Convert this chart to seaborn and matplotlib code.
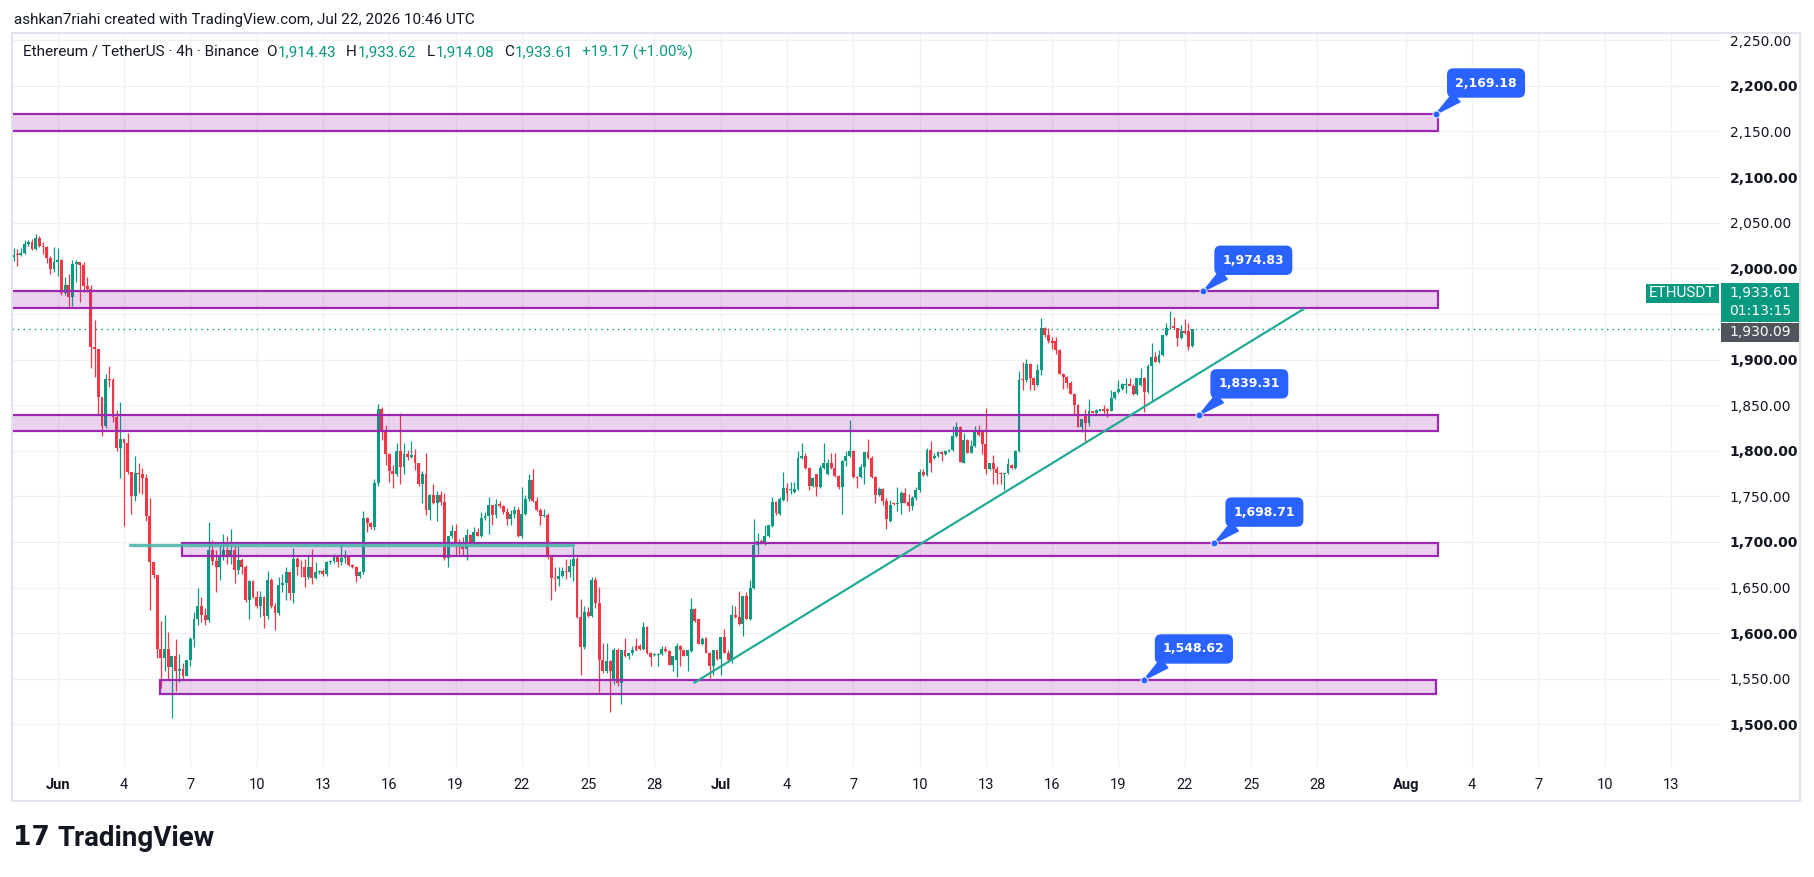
import numpy as np
import matplotlib
matplotlib.use("Agg")
import matplotlib.pyplot as plt
import seaborn as sns
from matplotlib.patches import Rectangle
from matplotlib.transforms import blended_transform_factory

# ===============================
# Style
# ===============================
sns.set_style("white")
plt.rcParams["font.family"] = ["DejaVu Sans"]
NARROW = ["Roboto", "DejaVu Sans"]

UP = "#089981"
DOWN = "#f23645"
PURPLE = "#9c27b0"
BLUE = "#2962ff"
TEXT = "#131722"

# ===============================
# ETH/USDT 4h candles, 30 May 00:00 -> 22 Jul 08:00
# ===============================
open_ = [
    2012, 2016, 2015, 2017, 2027, 2029, 2021, 2033, 2024, 2023,
    2011, 1999, 2007, 2009, 1973, 1982, 1968, 2005, 2007, 2004,
    1981, 1977, 1914, 1912, 1859, 1827, 1879, 1878, 1837, 1803,
    1813, 1809, 1777, 1750, 1776, 1775, 1770, 1728, 1678, 1664,
    1583, 1573, 1583, 1563, 1575, 1558, 1561, 1553, 1570, 1594,
    1616, 1630, 1620, 1614, 1691, 1679, 1673, 1685, 1691, 1685,
    1691, 1669, 1680, 1673, 1636, 1657, 1640, 1630, 1640, 1619,
    1658, 1630, 1622, 1653, 1655, 1667, 1644, 1681, 1673, 1672,
    1661, 1673, 1660, 1667, 1668, 1665, 1678, 1679, 1683, 1678,
    1682, 1683, 1675, 1673, 1663, 1667, 1726, 1721, 1716, 1765,
    1846, 1823, 1796, 1778, 1774, 1800, 1782, 1796, 1793, 1795,
    1786, 1763, 1774, 1735, 1751, 1743, 1751, 1744, 1682, 1706,
    1712, 1698, 1695, 1692, 1708, 1699, 1711, 1707, 1726, 1728,
    1741, 1729, 1742, 1739, 1733, 1725, 1731, 1735, 1706, 1731,
    1747, 1768, 1745, 1735, 1728, 1730, 1684, 1660, 1659, 1663,
    1668, 1667, 1674, 1681, 1618, 1585, 1623, 1619, 1658, 1633,
    1570, 1558, 1569, 1548, 1582, 1545, 1581, 1575, 1578, 1586,
    1586, 1583, 1607, 1578, 1576, 1576, 1577, 1583, 1580, 1565,
    1571, 1586, 1581, 1575, 1580, 1626, 1615, 1588, 1595, 1578,
    1564, 1581, 1572, 1596, 1578, 1570, 1620, 1618, 1610, 1641,
    1615, 1650, 1697, 1701, 1698, 1706, 1717, 1744, 1731, 1746,
    1759, 1757, 1755, 1758, 1792, 1794, 1781, 1761, 1774, 1760,
    1781, 1774, 1786, 1781, 1772, 1760, 1789, 1794, 1800, 1771,
    1771, 1782, 1799, 1792, 1771, 1751, 1758, 1745, 1723, 1743,
    1742, 1743, 1754, 1744, 1739, 1748, 1757, 1777, 1773, 1801,
    1792, 1794, 1799, 1796, 1800, 1801, 1816, 1826, 1787, 1812,
    1798, 1805, 1822, 1821, 1807, 1780, 1787, 1780, 1776, 1774,
    1776, 1784, 1781, 1800, 1879, 1877, 1895, 1880, 1872, 1888,
    1935, 1927, 1920, 1920, 1910, 1884, 1881, 1874, 1862, 1850,
    1826, 1838, 1830, 1843, 1841, 1844, 1846, 1846, 1844, 1858,
    1864, 1868, 1872, 1873, 1871, 1862, 1872, 1880, 1864, 1893,
    1903, 1897, 1905, 1927, 1934, 1937, 1934, 1924, 1931, 1931,
    1914.43,
]
high = [
    2022, 2021, 2022, 2031, 2031, 2032, 2038, 2035, 2029, 2024,
    2013, 2023, 2022, 2010, 1991, 1994, 2009, 2009, 2007, 2007,
    1990, 1982, 1943, 1912, 1859, 1884, 1893, 1880, 1845, 1853,
    1813, 1819, 1777, 1794, 1786, 1781, 1774, 1748, 1678, 1664,
    1613, 1620, 1601, 1575, 1593, 1577, 1567, 1571, 1596, 1623,
    1649, 1640, 1628, 1722, 1702, 1691, 1695, 1709, 1706, 1714,
    1696, 1695, 1682, 1675, 1658, 1658, 1646, 1646, 1641, 1668,
    1660, 1633, 1661, 1665, 1673, 1667, 1693, 1684, 1680, 1681,
    1685, 1692, 1678, 1669, 1670, 1679, 1680, 1687, 1684, 1698,
    1691, 1686, 1676, 1674, 1668, 1734, 1727, 1722, 1769, 1851,
    1848, 1828, 1797, 1784, 1809, 1841, 1809, 1801, 1811, 1802,
    1787, 1778, 1798, 1752, 1764, 1756, 1756, 1754, 1707, 1718,
    1720, 1703, 1705, 1714, 1709, 1716, 1715, 1733, 1733, 1749,
    1741, 1747, 1745, 1740, 1737, 1735, 1739, 1738, 1760, 1751,
    1775, 1780, 1749, 1737, 1736, 1732, 1685, 1673, 1673, 1673,
    1681, 1681, 1694, 1683, 1637, 1630, 1629, 1661, 1661, 1651,
    1589, 1589, 1570, 1584, 1584, 1581, 1595, 1578, 1586, 1595,
    1588, 1612, 1608, 1579, 1578, 1578, 1586, 1586, 1581, 1575,
    1589, 1587, 1582, 1581, 1638, 1627, 1616, 1596, 1596, 1579,
    1581, 1582, 1596, 1605, 1581, 1631, 1630, 1646, 1641, 1645,
    1658, 1725, 1710, 1703, 1719, 1719, 1749, 1745, 1749, 1777,
    1765, 1766, 1766, 1800, 1808, 1797, 1782, 1771, 1775, 1784,
    1809, 1791, 1798, 1798, 1773, 1790, 1800, 1834, 1801, 1772,
    1785, 1799, 1813, 1794, 1772, 1760, 1759, 1748, 1746, 1744,
    1760, 1756, 1759, 1753, 1750, 1760, 1780, 1780, 1803, 1811,
    1797, 1800, 1800, 1801, 1802, 1827, 1832, 1827, 1819, 1813,
    1812, 1827, 1828, 1822, 1847, 1787, 1795, 1783, 1777, 1776,
    1792, 1785, 1801, 1887, 1897, 1901, 1896, 1881, 1895, 1946,
    1936, 1934, 1925, 1925, 1911, 1885, 1882, 1876, 1863, 1851,
    1835, 1846, 1857, 1844, 1846, 1846, 1850, 1847, 1867, 1865,
    1878, 1874, 1880, 1880, 1873, 1880, 1891, 1881, 1895, 1918,
    1908, 1910, 1927, 1940, 1953, 1947, 1935, 1938, 1944, 1940,
    1933.62,
]
low = [
    2008, 2003, 2014, 2016, 2024, 2020, 2020, 2023, 2016, 2006,
    1994, 1996, 1992, 1971, 1971, 1957, 1959, 1985, 1963, 1974,
    1974, 1891, 1881, 1839, 1816, 1825, 1870, 1832, 1800, 1770,
    1717, 1774, 1731, 1745, 1754, 1753, 1723, 1625, 1660, 1573,
    1540, 1558, 1549, 1507, 1536, 1546, 1549, 1553, 1564, 1585,
    1609, 1612, 1609, 1612, 1675, 1645, 1658, 1680, 1676, 1676,
    1655, 1665, 1665, 1634, 1615, 1638, 1627, 1618, 1606, 1616,
    1627, 1603, 1620, 1645, 1636, 1636, 1633, 1664, 1662, 1651,
    1659, 1654, 1659, 1665, 1663, 1663, 1676, 1677, 1672, 1675,
    1677, 1674, 1671, 1656, 1660, 1665, 1711, 1714, 1713, 1761,
    1812, 1784, 1766, 1759, 1772, 1764, 1774, 1790, 1792, 1779,
    1761, 1743, 1730, 1724, 1742, 1723, 1741, 1680, 1673, 1704,
    1686, 1687, 1686, 1680, 1695, 1697, 1706, 1705, 1724, 1709,
    1718, 1726, 1737, 1731, 1719, 1718, 1726, 1705, 1704, 1729,
    1745, 1744, 1734, 1718, 1727, 1681, 1636, 1646, 1652, 1661,
    1659, 1661, 1657, 1617, 1554, 1583, 1618, 1618, 1628, 1535,
    1556, 1556, 1513, 1544, 1542, 1522, 1574, 1572, 1576, 1580,
    1582, 1582, 1577, 1564, 1575, 1564, 1576, 1579, 1565, 1559,
    1552, 1564, 1575, 1559, 1579, 1612, 1588, 1587, 1578, 1551,
    1554, 1571, 1554, 1578, 1568, 1567, 1617, 1609, 1597, 1615,
    1614, 1648, 1687, 1698, 1697, 1705, 1716, 1730, 1730, 1745,
    1745, 1753, 1754, 1757, 1791, 1780, 1757, 1760, 1750, 1759,
    1780, 1773, 1780, 1771, 1758, 1731, 1783, 1793, 1770, 1759,
    1770, 1764, 1791, 1770, 1743, 1750, 1740, 1714, 1722, 1741,
    1734, 1731, 1743, 1734, 1735, 1746, 1755, 1772, 1772, 1777,
    1791, 1793, 1789, 1795, 1799, 1800, 1815, 1788, 1786, 1797,
    1797, 1804, 1816, 1796, 1774, 1779, 1764, 1763, 1763, 1757,
    1775, 1780, 1780, 1799, 1867, 1875, 1867, 1867, 1871, 1883,
    1925, 1918, 1911, 1906, 1884, 1868, 1869, 1862, 1840, 1826,
    1820, 1811, 1827, 1841, 1840, 1843, 1839, 1837, 1843, 1857,
    1863, 1867, 1863, 1871, 1861, 1861, 1871, 1842, 1863, 1855,
    1897, 1896, 1904, 1926, 1933, 1933, 1915, 1923, 1928, 1910,
    1914.08,
]
close = [
    2015, 2015, 2017, 2027, 2029, 2021, 2033, 2024, 2023, 2011,
    1999, 2007, 2009, 1973, 1982, 1968, 2005, 2007, 2004, 1981,
    1977, 1914, 1912, 1859, 1827, 1879, 1878, 1837, 1803, 1813,
    1809, 1777, 1750, 1776, 1775, 1770, 1728, 1678, 1664, 1583,
    1573, 1583, 1563, 1575, 1558, 1561, 1553, 1570, 1594, 1616,
    1630, 1620, 1614, 1691, 1679, 1673, 1685, 1691, 1685, 1691,
    1669, 1680, 1673, 1636, 1657, 1640, 1630, 1640, 1619, 1658,
    1630, 1622, 1653, 1655, 1667, 1644, 1681, 1673, 1672, 1661,
    1673, 1660, 1667, 1668, 1665, 1678, 1679, 1683, 1678, 1682,
    1683, 1675, 1673, 1663, 1667, 1726, 1721, 1716, 1765, 1846,
    1823, 1796, 1778, 1774, 1800, 1782, 1796, 1793, 1795, 1786,
    1763, 1774, 1735, 1751, 1743, 1751, 1744, 1682, 1706, 1712,
    1698, 1695, 1692, 1708, 1699, 1711, 1707, 1726, 1728, 1741,
    1729, 1742, 1739, 1733, 1725, 1731, 1735, 1706, 1731, 1747,
    1768, 1745, 1735, 1728, 1730, 1684, 1660, 1659, 1663, 1668,
    1667, 1674, 1681, 1618, 1585, 1623, 1619, 1658, 1633, 1570,
    1558, 1569, 1558, 1582, 1545, 1581, 1575, 1578, 1581, 1581,
    1583, 1607, 1578, 1574, 1577, 1577, 1583, 1580, 1565, 1575,
    1586, 1581, 1575, 1581, 1626, 1613, 1588, 1593, 1578, 1564,
    1581, 1572, 1596, 1578, 1570, 1620, 1618, 1610, 1641, 1615,
    1650, 1697, 1701, 1698, 1707, 1718, 1744, 1732, 1747, 1759,
    1754, 1758, 1758, 1792, 1794, 1781, 1761, 1770, 1760, 1781,
    1786, 1786, 1781, 1772, 1760, 1789, 1794, 1800, 1771, 1770,
    1782, 1799, 1792, 1771, 1751, 1758, 1745, 1725, 1741, 1742,
    1743, 1754, 1743, 1739, 1748, 1757, 1777, 1773, 1801, 1786,
    1794, 1799, 1796, 1800, 1801, 1816, 1826, 1788, 1812, 1798,
    1805, 1822, 1817, 1807, 1780, 1787, 1780, 1776, 1774, 1776,
    1785, 1781, 1800, 1878, 1877, 1895, 1880, 1872, 1888, 1935,
    1927, 1920, 1918, 1910, 1884, 1881, 1874, 1862, 1850, 1826,
    1835, 1830, 1843, 1841, 1845, 1846, 1844, 1844, 1858, 1864,
    1868, 1873, 1873, 1871, 1862, 1880, 1880, 1864, 1893, 1903,
    1897, 1905, 1927, 1934, 1935, 1934, 1924, 1931, 1929, 1914,
    1933.61,
]
first_candle_day = -2.0   # 30 May 00:00, in days from 1 Jun
candles_per_day = 6

# Support / resistance zones (price) and their day range
zone_top = [2169.18, 1974.83, 1839.31, 1698.71, 1548.62]
zone_bottom = [2151.0, 1957.0, 1822.0, 1684.5, 1533.5]
zone_start = [-4.0, -4.0, -4.0, 5.61, 4.63]
zone_end = [62.45, 62.45, 62.45, 62.45, 62.37]
label_day = [62.37, 51.84, 51.66, 52.34, 49.15]

# Drawn lines
trend_days = [28.81, 56.38]
trend_prices = [1545.7, 1955.4]
flat_days = [3.27, 23.33]
flat_prices = [1697.0, 1697.0]

last_price = 1933.61
marker_price = 1930.09
change_text = "+19.17 (+1.00%)"

# Axis ticks
xtick_days = [0, 3, 6, 9, 12, 15, 18, 21, 24, 27, 30, 33, 36, 39, 42, 45,
              48, 51, 54, 57, 61, 64, 67, 70, 73]
xtick_labels = ["Jun", "4", "7", "10", "13", "16", "19", "22", "25", "28",
                "Jul", "4", "7", "10", "13", "16", "19", "22", "25", "28",
                "Aug", "4", "7", "10", "13"]
price_ticks = list(range(1500, 2251, 50))

# ===============================
# Figure
# ===============================
W, H, DPI = 1814, 877, 100
fig = plt.figure(figsize=(W / DPI, H / DPI), dpi=DPI)
fig.patch.set_facecolor("white")
ax = fig.add_axes([12 / W, (H - 767) / H, 1708 / W, 734 / H])

o = np.array(open_, dtype=float)
h = np.array(high, dtype=float)
l = np.array(low, dtype=float)
c = np.array(close, dtype=float)
x = first_candle_day + np.arange(len(c)) / candles_per_day
cols = np.where(c >= o, UP, DOWN)

ax.vlines(x, l, h, colors=cols, linewidth=0.9, zorder=3)
body_bottom = np.minimum(o, c)
body_height = np.maximum(np.abs(c - o), 1.0)
ax.bar(x, body_height, bottom=body_bottom, width=0.13, color=cols,
       linewidth=0, zorder=3)

# zones
for top, bot, x0, x1 in zip(zone_top, zone_bottom, zone_start, zone_end):
    ax.add_patch(Rectangle((x0, bot), x1 - x0, top - bot,
                           facecolor=(0.612, 0.153, 0.69, 0.2),
                           edgecolor=PURPLE, linewidth=1.6, zorder=4))

# drawn lines
sns.lineplot(x=flat_days, y=flat_prices, ax=ax, color="#4db6ac",
             linewidth=2.4, alpha=0.9, zorder=5)
sns.lineplot(x=trend_days, y=trend_prices, ax=ax, color="#22ab94",
             linewidth=1.6, zorder=5)

# last price line
ax.axhline(last_price, color=UP, linestyle=(0, (1, 3)), linewidth=1.0,
           zorder=2)

# callouts
for d, p in zip(label_day, zone_top):
    ax.annotate(f"{p:,.2f}", xy=(d, p), xytext=(50, 31),
                textcoords="offset pixels", ha="center", va="center",
                color="white", fontsize=9, fontweight="bold",
                bbox=dict(boxstyle="round,pad=0.6,rounding_size=0.45",
                          fc=BLUE, ec=BLUE),
                arrowprops=dict(arrowstyle="wedge,tail_width=0.9",
                                fc=BLUE, ec=BLUE, relpos=(0.18, 0.0),
                                shrinkA=0, shrinkB=0),
                zorder=10)
    ax.plot(d, p, "o", ms=5, mfc=BLUE, mec="#dfe7ff", mew=0.8, zorder=11)

# axes
ax.set_xlim(-2.07, 75.22)
ax.set_ylim(1453.2, 2258.0)
ax.set_xticks(xtick_days)
ax.set_xticklabels(xtick_labels)
ax.set_yticks(price_ticks)
ax.set_yticklabels([("" if t == 1950 else f"{t:,.2f}") for t in price_ticks])
ax.yaxis.tick_right()
ax.tick_params(axis="y", length=0, pad=7, labelsize=10, labelcolor=TEXT)
ax.tick_params(axis="x", length=0, pad=8, labelsize=10.5, labelcolor=TEXT)
for lbl in ax.get_xticklabels():
    lbl.set_family(NARROW)
    if lbl.get_text() in ("Jun", "Jul", "Aug"):
        lbl.set_fontweight("bold")
for lbl, t in zip(ax.get_yticklabels(), price_ticks):
    if t % 100 == 0:
        lbl.set_fontweight("bold")
ax.grid(True, color="#f0f1f4", linewidth=1.0)
ax.set_axisbelow(True)
for s in ax.spines.values():
    s.set_visible(False)

# price labels on the axis
tr = blended_transform_factory(ax.transAxes, ax.transData)
gray_half = 10.4
ax.add_patch(Rectangle((1.0006, marker_price - gray_half), 0.0463,
                       2 * gray_half, transform=tr, clip_on=False,
                       facecolor="#51545c", edgecolor="none", zorder=12))
ax.text(1.0235, marker_price, f"{marker_price:,.2f}", transform=tr,
        ha="center", va="center", color="white", fontsize=10, zorder=13)
g_bot = marker_price + gray_half + 0.2
ax.add_patch(Rectangle((1.0006, g_bot), 0.0463, 42.8, transform=tr,
                       clip_on=False, facecolor=UP, edgecolor="none",
                       zorder=12))
ax.text(1.0235, g_bot + 32, f"{last_price:,.2f}", transform=tr,
        ha="center", va="center", color="white", fontsize=10, zorder=13)
ax.text(1.0235, g_bot + 12, "01:13:15", transform=tr,
        ha="center", va="center", color="white", fontsize=10, zorder=13)
ax.add_patch(Rectangle((0.9567, g_bot + 21.5), 0.0427, 21.0, transform=tr,
                       clip_on=False, facecolor=UP, edgecolor="none",
                       zorder=12))
ax.text(0.978, g_bot + 32, "ETHUSDT", transform=tr, ha="center",
        va="center", color="white", fontsize=11, family=NARROW, zorder=13)

# outer frame
fig.add_artist(Rectangle((12 / W, (H - 801) / H), 1788 / W, 768 / H,
                         transform=fig.transFigure, fill=False,
                         edgecolor="#e0e3eb", linewidth=1.4))

# header texts
fig.text(14 / W, 1 - 20 / H,
         "ashkan7riahi created with TradingView.com, Jul 22, 2026 10:46 UTC",
         fontsize=11, color=TEXT, va="center", family=NARROW)

parts = ["Ethereum / TetherUS · 4h · Binance", "O", f"{open_[-1]:,.2f}",
         "H", f"{high[-1]:,.2f}", "L", f"{low[-1]:,.2f}", "C",
         f"{close[-1]:,.2f}", change_text]
part_c = [TEXT, TEXT, UP, TEXT, UP, TEXT, UP, TEXT, UP, UP]
part_gap = [7, 1, 10, 1, 10, 1, 10, 1, 8, 0]
renderer = fig.canvas.get_renderer()
cursor = 23
for s, pc, gap in zip(parts, part_c, part_gap):
    t = fig.text(cursor / W, 1 - 52 / H, s, fontsize=11, color=pc,
                 va="center", family=NARROW)
    cursor += t.get_window_extent(renderer=renderer).width + gap

# TradingView logo
fig.text(13 / W, 1 - 838 / H, "17", fontsize=19, fontweight="heavy",
         color="#131722", va="center")
fig.text(57 / W, 1 - 838 / H, "TradingView", fontsize=20,
         fontweight="bold", color="#131722", va="center", family=NARROW)

fig.savefig("out.png", dpi=DPI, facecolor="white")
